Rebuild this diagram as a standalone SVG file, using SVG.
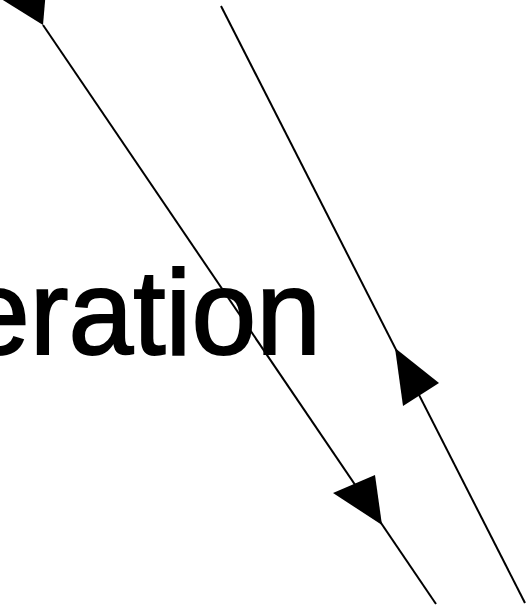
<svg xmlns="http://www.w3.org/2000/svg" width="532" height="605" viewBox="0 0 532 605">
  <style>
    .ln { stroke: #000; stroke-width: 2; fill: none; }
    .ah { fill: #000; stroke: none; }
    .lbl { font-family: "Liberation Sans", Arial, sans-serif; font-size: 120px; fill: #000; stroke: #000; stroke-width: 2; }
  </style>
  <rect width="532" height="605" fill="#fff"/>
  <g id="label" transform="translate(-35,354) scale(0.97,1)">
    <text class="lbl" x="0" y="0">eration</text>
  </g>
  <g id="connectors">
    <line class="ln" x1="43" y1="25" x2="436" y2="604"/>
    <line class="ln" x1="221" y1="6" x2="525" y2="603"/>
    <polygon class="ah" points="43,25 46,-10 -2,-3"/>
    <polygon class="ah" points="382,525 333,493 375,475"/>
    <polygon class="ah" points="395,348 439,383 403,406"/>
  </g>
</svg>
